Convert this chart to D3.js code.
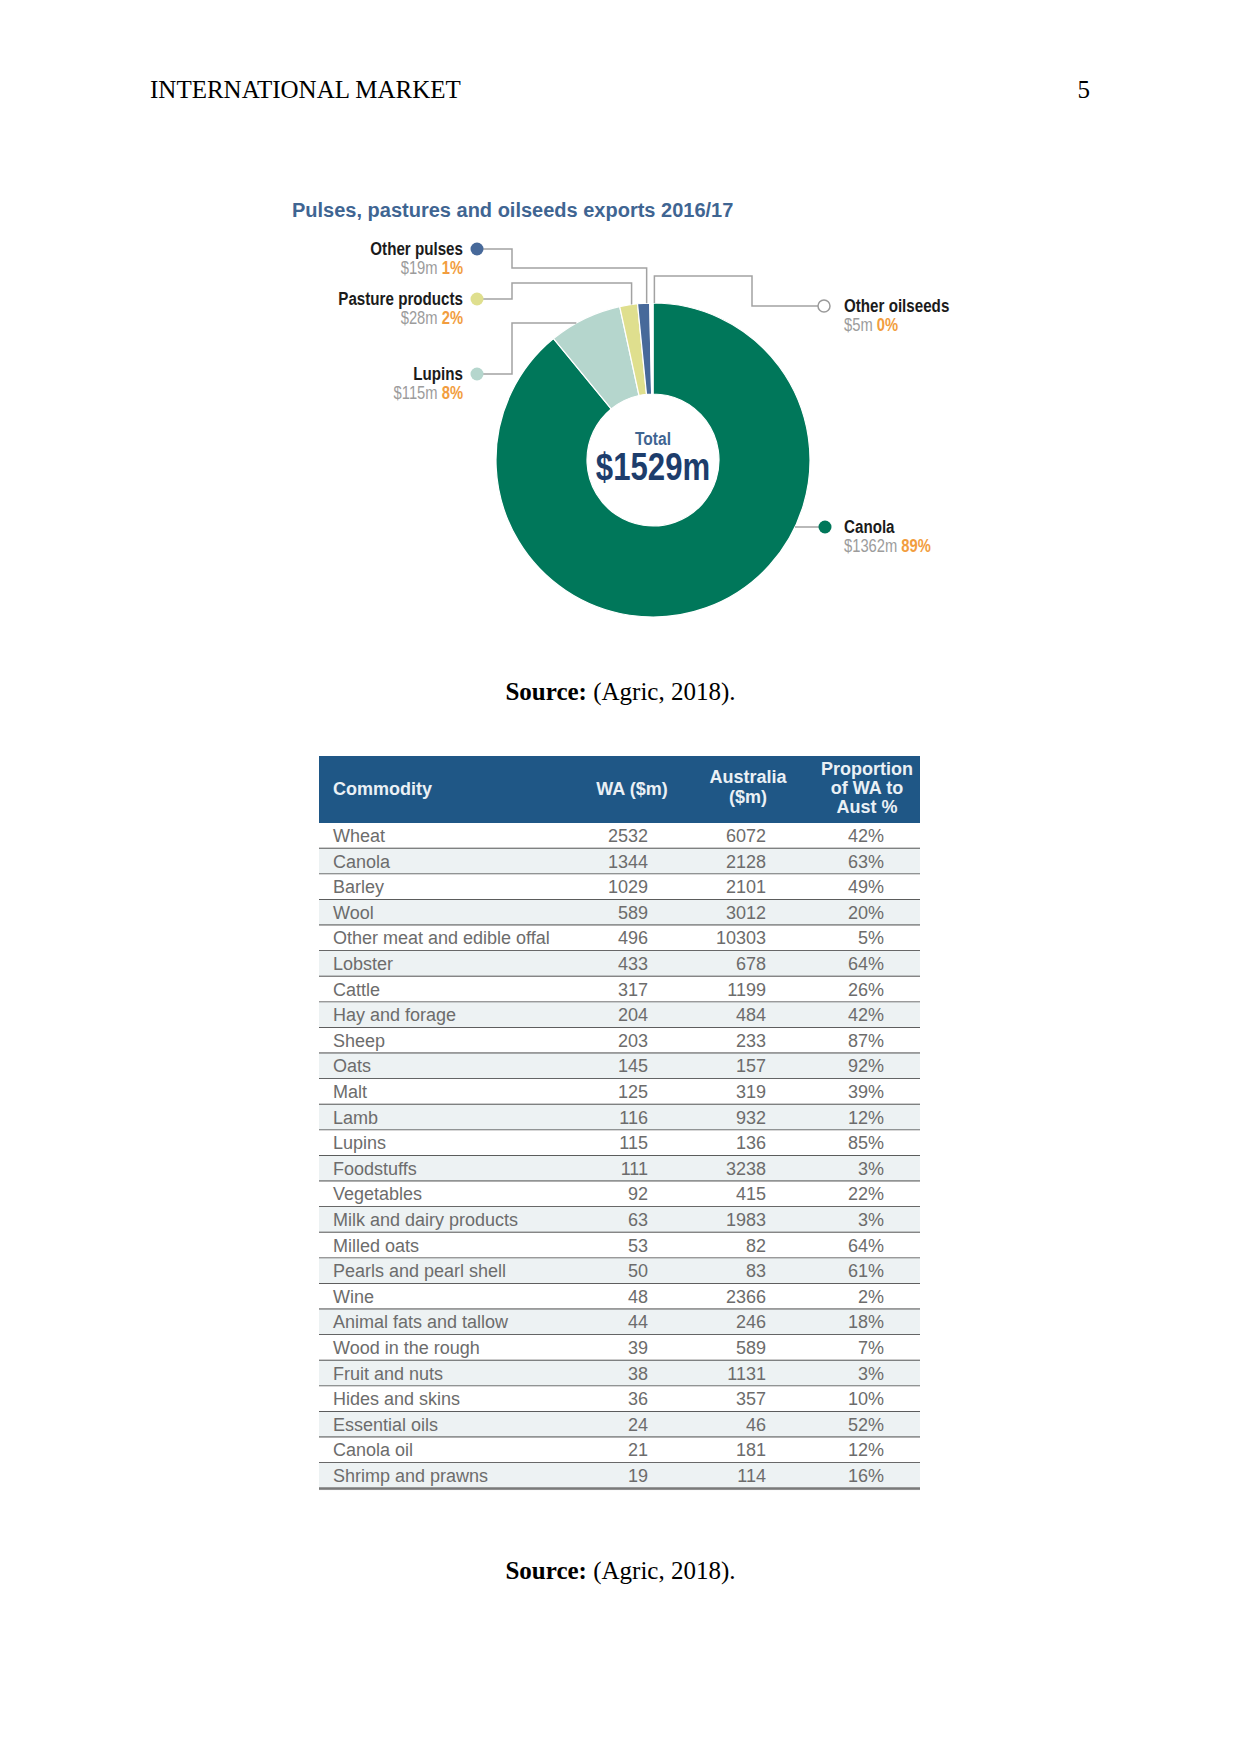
<!DOCTYPE html>
<html>
<head>
<meta charset="utf-8">
<script src="https://cdn.jsdelivr.net/npm/d3@7"></script>
<style>
  body { margin: 0; background: #fff; }
  svg { display: block; }
</style>
</head>
<body>
<svg id="page" width="1241" height="1754"></svg>
<script>

// donut data
var slice_names = ['Canola', 'Lupins', 'Pasture products', 'Other pulses', 'Other oilseeds']
var slice_values = [1362, 115, 28, 19, 5]
var slice_money = ['$1362m', '$115m', '$28m', '$19m', '$5m']
var slice_pcts = ['89%', '8%', '2%', '1%', '0%']
var total_label = '$1529m'

// table data
var commodities = ['Wheat', 'Canola', 'Barley', 'Wool', 'Other meat and edible offal', 'Lobster', 'Cattle',
    'Hay and forage', 'Sheep', 'Oats', 'Malt', 'Lamb', 'Lupins', 'Foodstuffs', 'Vegetables',
    'Milk and dairy products', 'Milled oats', 'Pearls and pearl shell', 'Wine', 'Animal fats and tallow',
    'Wood in the rough', 'Fruit and nuts', 'Hides and skins', 'Essential oils', 'Canola oil', 'Shrimp and prawns']
var wa_values = [2532, 1344, 1029, 589, 496, 433, 317, 204, 203, 145, 125, 116, 115, 111, 92, 63, 53, 50, 48, 44, 39, 38, 36, 24, 21, 19]
var aus_values = [6072, 2128, 2101, 3012, 10303, 678, 1199, 484, 233, 157, 319, 932, 136, 3238, 415, 1983, 82, 83, 2366, 246, 589, 1131, 357, 46, 181, 114]
var proportions = [42, 63, 49, 20, 5, 64, 26, 42, 87, 92, 39, 12, 85, 3, 22, 3, 64, 61, 2, 18, 7, 3, 10, 52, 12, 16]
var table_headers = [['Commodity'], ['WA ($m)'], ['Australia', '($m)'], ['Proportion', 'of WA to', 'Aust %']]


var svg = d3.select('#page')
var serif = '"Liberation Serif", "Times New Roman", serif'
var sans = '"Liberation Sans", Arial, sans-serif'

// condensed look: no narrow font installed, so squeeze Liberation Sans
function narrow_text(x, y, anchor, size, weight) {
    return svg.append('text')
        .attr('transform', 'translate(' + x + ',' + y + ') scale(0.82,1)')
        .attr('text-anchor', anchor)
        .attr('font-family', sans).attr('font-size', size).attr('font-weight', weight)
}

// page header
svg.append('text')
    .attr('x', 150).attr('y', 98)
    .attr('font-family', serif).attr('font-size', 25)
    .text('INTERNATIONAL MARKET')
svg.append('text')
    .attr('x', 1090).attr('y', 98)
    .attr('text-anchor', 'end')
    .attr('font-family', serif).attr('font-size', 25)
    .text('5')

function source_line(y) {
    var t = svg.append('text')
        .attr('x', 620.5).attr('y', y)
        .attr('text-anchor', 'middle')
        .attr('font-family', serif).attr('font-size', 25)
    t.append('tspan').attr('font-weight', 'bold').text('Source:')
    t.append('tspan').text(' (Agric, 2018).')
}


// ---------------- donut ----------------
var cx = 653, cy = 460, R = 157, r0 = 66
var colors = ['#00775a', '#b5d6cd', '#dfdf8e', '#47699a', '#ffffff']

svg.append('text')
    .attr('x', 292).attr('y', 217)
    .attr('font-family', sans).attr('font-size', 20).attr('font-weight', 'bold')
    .attr('fill', '#3f6592')
    .text('Pulses, pastures and oilseeds exports 2016/17')

var arcs = d3.pie().sort(null).value(function(d) { return d })(slice_values)
var arc = d3.arc().innerRadius(r0).outerRadius(R)

var donut = svg.append('g').attr('transform', 'translate(' + cx + ',' + cy + ')')
donut.selectAll('path')
    .data(arcs)
    .enter().append('path')
    .attr('d', arc)
    .attr('fill', function(d, i) { return colors[i] })
    .attr('stroke', '#fff')
    .attr('stroke-width', 1.2)

narrow_text(cx, 445, 'middle', 19, 'bold')
    .attr('fill', '#3f6592')
    .text('Total')
narrow_text(cx, 480, 'middle', 38, 'bold')
    .attr('fill', '#1d3d6c')
    .text(total_label)

// label layout: dot position, label side, leader route
var label_layout = [
    {dot: [825, 527], side: 'right', level: 527, route: 'flat'},
    {dot: [477, 374], side: 'left', level: 323, elbow: 512, route: 'flat'},
    {dot: [477, 299], side: 'left', level: 283, elbow: 512, route: 'top'},
    {dot: [477, 249], side: 'left', level: 268, elbow: 512, route: 'top'},
    {dot: [824, 306], side: 'right', level: 276, elbow: 752, route: 'top'}
]

function arc_x_at(y, sign) { return cx + sign * Math.sqrt(R * R - (y - cy) * (y - cy)) }

var leader = d3.line()
arcs.forEach(function(d, i) {
    var lay = label_layout[i]
    var mid = (d.startAngle + d.endAngle) / 2
    var sign = Math.sin(mid) < 0 ? -1 : 1
    var dotEdge = lay.side === 'left' ? lay.dot[0] + 6 : lay.dot[0] - 6
    var pts
    if (lay.route === 'flat') {
        var ax = arc_x_at(lay.level, sign)
        if (lay.elbow) pts = [[dotEdge, lay.dot[1]], [lay.elbow, lay.dot[1]], [lay.elbow, lay.level], [ax, lay.level]]
        else pts = [[ax, lay.level], [dotEdge, lay.dot[1]]]
    } else {
        var mx = cx + R * Math.sin(mid) + 3
        var my = cy - Math.sqrt(R * R - (mx - cx) * (mx - cx))
        pts = [[dotEdge, lay.dot[1]], [lay.elbow, lay.dot[1]], [lay.elbow, lay.level], [mx, lay.level], [mx, my]]
    }
    svg.append('path')
        .attr('d', leader(pts))
        .attr('fill', 'none')
        .attr('stroke', '#a2a2a2')
        .attr('stroke-width', 1.5)

    svg.append('circle')
        .attr('cx', lay.dot[0]).attr('cy', lay.dot[1]).attr('r', i === 4 ? 6 : 6.5)
        .attr('fill', colors[i])
        .attr('stroke', i === 4 ? '#9a9a9a' : 'none')
        .attr('stroke-width', 1.5)

    var tx = lay.side === 'left' ? 463 : 844
    var anchor = lay.side === 'left' ? 'end' : 'start'
    narrow_text(tx, lay.dot[1] + 5.5, anchor, 18.5, 'bold')
        .attr('fill', '#1b1b1b')
        .text(slice_names[i])
    var v = narrow_text(tx, lay.dot[1] + 24.5, anchor, 18, 'normal')
    v.append('tspan').attr('fill', '#9c9c9c').text(slice_money[i] + ' ')
    v.append('tspan').attr('fill', '#f29d3e').attr('font-weight', 'bold').text(slice_pcts[i])
})

source_line(700)


// ---------------- table ----------------
var tLeft = 319, tRight = 920, headTop = 756, headBottom = 823
var rowH = 25.6

var y = d3.scaleBand()
    .domain(d3.range(commodities.length))
    .range([headBottom, headBottom + commodities.length * rowH])

svg.append('rect')
    .attr('x', tLeft).attr('y', headTop)
    .attr('width', tRight - tLeft).attr('height', headBottom - headTop)
    .attr('fill', '#1f5786')

// header columns: anchor x, text-anchor, baselines
var head_cols = [
    {x: 333, anchor: 'start', ys: [795]},
    {x: 632, anchor: 'middle', ys: [795]},
    {x: 748, anchor: 'middle', ys: [783, 803]},
    {x: 867, anchor: 'middle', ys: [775, 794, 813]}
]
table_headers.forEach(function(lines, c) {
    lines.forEach(function(s, k) {
        svg.append('text')
            .attr('x', head_cols[c].x).attr('y', head_cols[c].ys[k])
            .attr('text-anchor', head_cols[c].anchor)
            .attr('font-family', sans).attr('font-size', 18).attr('font-weight', 'bold')
            .attr('fill', '#eaf0f5')
            .text(s)
    })
})

var rows = svg.append('g').selectAll('g')
    .data(commodities)
    .enter().append('g')
    .attr('transform', function(d, i) { return 'translate(0,' + y(i) + ')' })

rows.append('rect')
    .attr('x', tLeft).attr('width', tRight - tLeft)
    .attr('height', y.bandwidth())
    .attr('fill', function(d, i) { return i % 2 ? '#edf2f3' : '#fff' })

var body_cols = [
    {x: 333, anchor: 'start', val: function(i) { return commodities[i] }},
    {x: 648, anchor: 'end', val: function(i) { return wa_values[i] }},
    {x: 766, anchor: 'end', val: function(i) { return aus_values[i] }},
    {x: 884, anchor: 'end', val: function(i) { return proportions[i] + '%' }}
]
body_cols.forEach(function(col) {
    rows.append('text')
        .attr('x', col.x).attr('y', 19)
        .attr('text-anchor', col.anchor)
        .attr('font-family', sans).attr('font-size', 18)
        .attr('fill', '#6c6c6c')
        .text(function(d, i) { return col.val(i) })
})

// row separators
rows.append('line')
    .attr('x1', tLeft).attr('x2', tRight)
    .attr('y1', y.bandwidth() + 1).attr('y2', y.bandwidth() + 1)
    .attr('stroke', '#d2d2d2').attr('stroke-width', 1)
rows.append('line')
    .attr('x1', tLeft).attr('x2', tRight)
    .attr('y1', y.bandwidth()).attr('y2', y.bandwidth())
    .attr('stroke', function(d, i) { return i === commodities.length - 1 ? '#7a7a7a' : '#363636' })
    .attr('stroke-width', function(d, i) { return i === commodities.length - 1 ? 2.5 : 1.6 })

source_line(1579)

</script>
</body>
</html>
